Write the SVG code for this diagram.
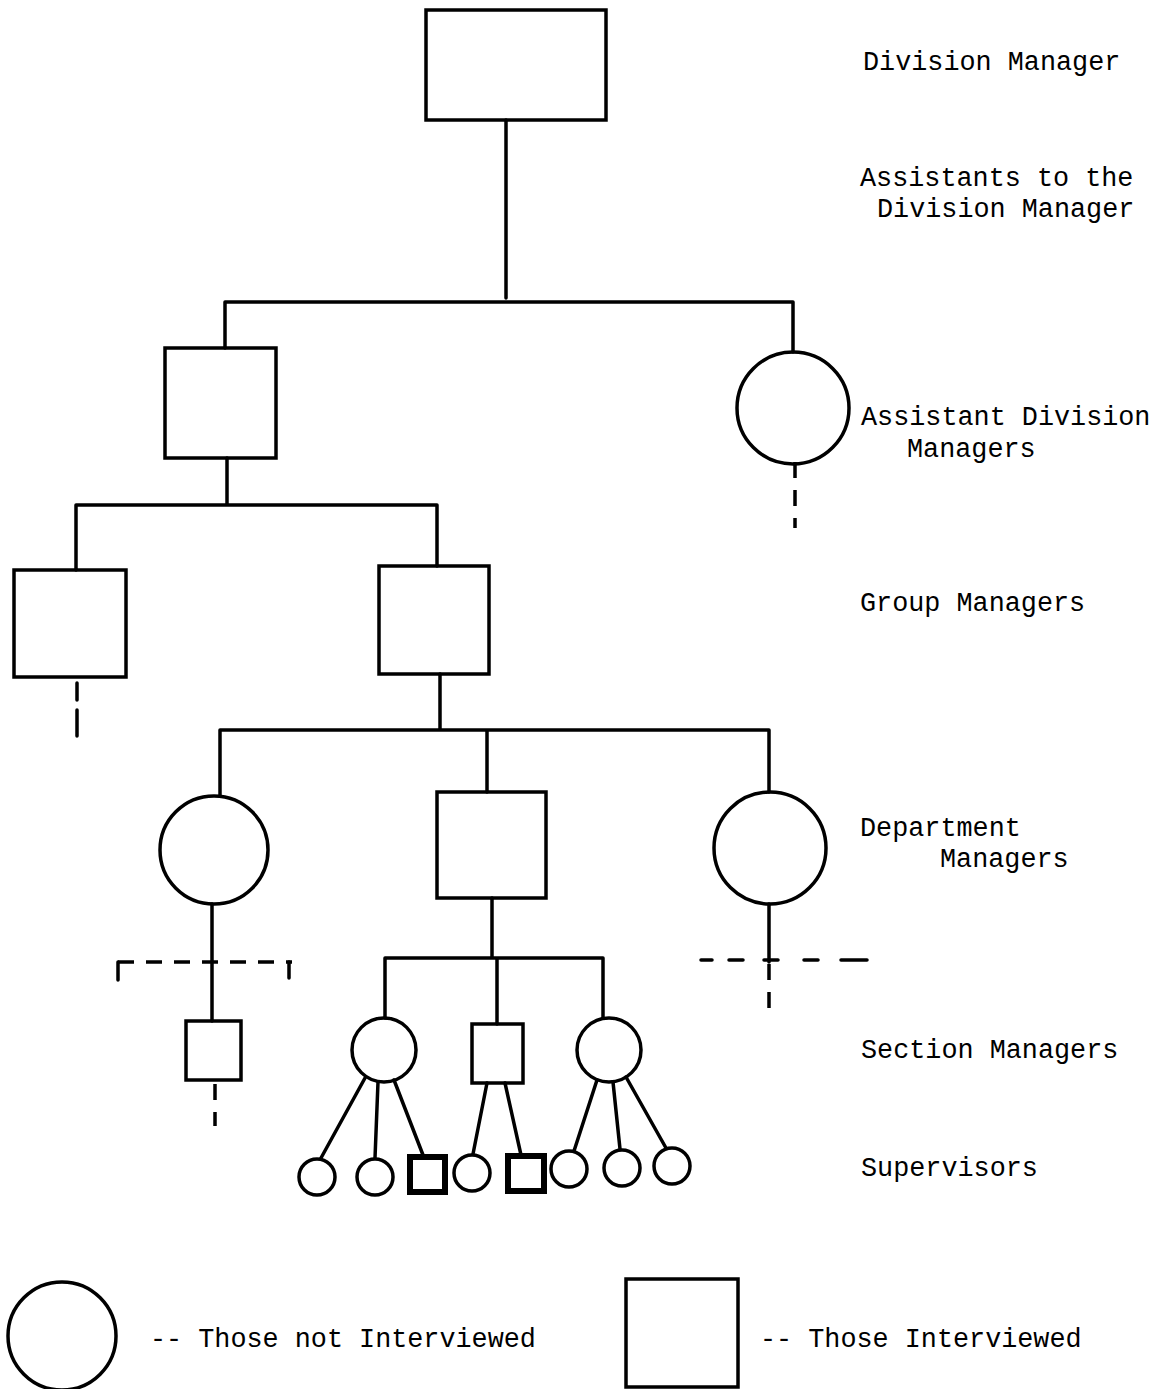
<svg xmlns="http://www.w3.org/2000/svg" width="1159" height="1389" viewBox="0 0 1159 1389">
  <style>
    .n { fill: none; stroke: #000; stroke-width: 3.5; }
    .b { fill: none; stroke: #000; stroke-width: 6; }
    .c { fill: none; stroke: #000; stroke-width: 3.5; stroke-linecap: round; }
    .d { fill: none; stroke: #000; stroke-width: 3.5; stroke-dasharray: 16 12; }
    .t { font-family: "Liberation Mono", "DejaVu Sans Mono", monospace; font-size: 26.8px; fill: #000; }
  </style>
  <rect width="1159" height="1389" fill="#fff"/>

  <!-- connectors -->
  <g id="connectors">
    <path class="c" d="M506 120V298 M225 302H793 M225 302V348 M793 302V352"/>
    <path class="c" d="M227 458V505 M76 505H437 M76 505V570 M437 505V566"/>
    <path class="c" d="M440 674V730 M220 730H769 M220 730V796 M487 730V792 M769 730V792"/>
    <path class="c" d="M212 904V1021 M492 898V958 M385 958H603 M385 958V1018 M497 958V1024 M603 958V1018 M769 904V962"/>
    <path class="c" d="M365 1078L321 1158 M378 1082L375 1158 M394 1080L423 1155 M487 1083L473 1154 M505 1083L521 1155 M597 1080L574 1151 M613 1082L620 1149 M626 1077L666 1148"/>
    <!-- continuation marks -->
    <path class="d" d="M795 462V528"/>
    <path class="c" d="M77 683V700 M77 710V736"/>
    <path class="d" d="M215 1084V1126"/>
    <path class="d" d="M118 962H292"/>
    <path class="c" d="M118 962V980 M289 962V978"/>
    <path class="c" d="M701 960H712 M729 960H743 M764 960H778 M804 960H818 M841 960H867"/>
    <path class="d" d="M769 964V1010"/>
  </g>

  <!-- top -->
  <g id="division-manager"><rect class="n" x="426" y="10" width="180" height="110"/></g>

  <!-- assistant division managers -->
  <g id="adm-1"><rect class="n" x="165" y="348" width="111" height="110"/></g>
  <g id="adm-2"><circle class="n" cx="793" cy="408" r="56"/></g>

  <!-- group managers -->
  <g id="gm-1"><rect class="n" x="14" y="570" width="112" height="107"/></g>
  <g id="gm-2"><rect class="n" x="379" y="566" width="110" height="108"/></g>

  <!-- department managers -->
  <g id="dm-1"><circle class="n" cx="214" cy="850" r="54"/></g>
  <g id="dm-2"><rect class="n" x="437" y="792" width="109" height="106"/></g>
  <g id="dm-3"><circle class="n" cx="770" cy="848" r="56"/></g>

  <!-- section managers -->
  <g id="sm-1"><rect class="n" x="186" y="1021" width="55" height="59"/></g>
  <g id="sm-2"><circle class="n" cx="384" cy="1050" r="32"/></g>
  <g id="sm-3"><rect class="n" x="472" y="1024" width="51" height="59"/></g>
  <g id="sm-4"><circle class="n" cx="609" cy="1050" r="32"/></g>

  <!-- supervisors -->
  <g id="sv-1"><circle class="n" cx="317" cy="1177" r="18"/></g>
  <g id="sv-2"><circle class="n" cx="375" cy="1177" r="18"/></g>
  <g id="sv-3"><rect class="b" x="410" y="1157" width="35" height="35"/></g>
  <g id="sv-4"><circle class="n" cx="472" cy="1173" r="18"/></g>
  <g id="sv-5"><rect class="b" x="508" y="1156" width="36" height="35"/></g>
  <g id="sv-6"><circle class="n" cx="569" cy="1169" r="18"/></g>
  <g id="sv-7"><circle class="n" cx="622" cy="1168" r="18"/></g>
  <g id="sv-8"><circle class="n" cx="672" cy="1166" r="18"/></g>

  <!-- level labels -->
  <g id="labels">
    <text class="t" x="863" y="70">Division Manager</text>
    <text class="t" x="860" y="186">Assistants to the</text>
    <text class="t" x="877" y="217">Division Manager</text>
    <text class="t" x="861" y="425">Assistant Division</text>
    <text class="t" x="907" y="457">Managers</text>
    <text class="t" x="860" y="611">Group Managers</text>
    <text class="t" x="860" y="836">Department</text>
    <text class="t" x="940" y="867">Managers</text>
    <text class="t" x="861" y="1058">Section Managers</text>
    <text class="t" x="861" y="1176">Supervisors</text>
  </g>

  <!-- key -->
  <g id="legend-circle">
    <circle class="n" cx="62" cy="1336" r="54"/>
    <text class="t" x="150" y="1347">-- Those not Interviewed</text>
  </g>
  <g id="legend-square">
    <rect class="n" x="626" y="1279" width="112" height="108"/>
    <text class="t" x="760" y="1347">-- Those Interviewed</text>
  </g>
</svg>
